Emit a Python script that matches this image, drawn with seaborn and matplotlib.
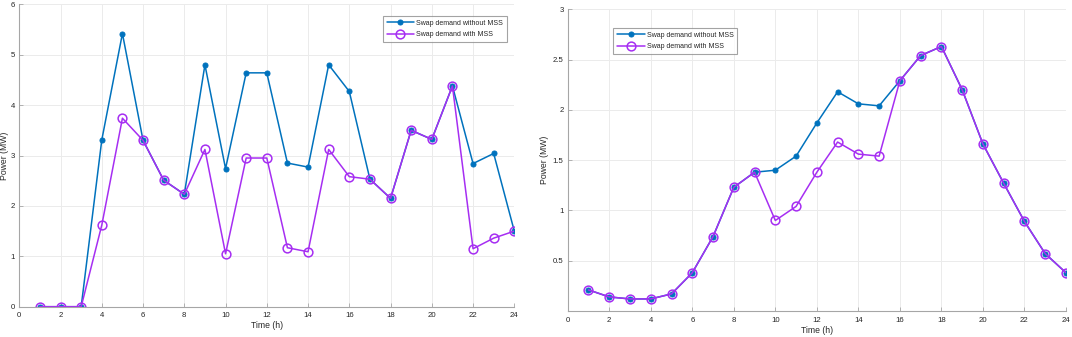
import matplotlib
matplotlib.use('Agg')
import matplotlib.pyplot as plt
import seaborn as sns
import numpy as np

hours = list(range(1, 25))

# Left panel
left_without = [0, 0, 0, 3.31, 5.42, 3.30, 2.51, 2.23, 4.80, 2.74, 4.64, 4.64,
                2.85, 2.77, 4.80, 4.27, 2.53, 2.15, 3.50, 3.32, 4.38, 2.84, 3.04, 1.50]
left_with = [0, 0, 0, 1.62, 3.74, 3.30, 2.51, 2.23, 3.12, 1.05, 2.95, 2.95,
             1.17, 1.09, 3.12, 2.58, 2.53, 2.15, 3.50, 3.32, 4.38, 1.15, 1.36, 1.50]

# Right panel
right_without = [0.21, 0.14, 0.12, 0.12, 0.17, 0.38, 0.74, 1.23, 1.38, 1.40, 1.54, 1.87,
                 2.18, 2.06, 2.04, 2.29, 2.54, 2.63, 2.20, 1.66, 1.27, 0.89, 0.57, 0.38]
right_with = [0.21, 0.14, 0.12, 0.12, 0.17, 0.38, 0.74, 1.23, 1.38, 0.90, 1.04, 1.38,
              1.68, 1.56, 1.54, 2.29, 2.54, 2.63, 2.20, 1.66, 1.27, 0.89, 0.57, 0.38]

label_without = 'Swap demand without MSS'
label_with = 'Swap demand with MSS'
xticks = list(range(0, 25, 2))

BLUE = '#0072BD'
PURPLE = '#A62EF2'
TEXT = '#262626'

sns.set_theme(style='white')
plt.rcParams['font.family'] = ['Liberation Sans', 'DejaVu Sans']


def draw_panel(ax, y_without, y_with, ymax, yticks, legend_anchor, ylabelpad):
    sns.lineplot(x=hours, y=y_without, ax=ax, color=BLUE, linewidth=1.1,
                 marker='o', markersize=3.6, markeredgecolor=BLUE,
                 label=label_without)
    sns.lineplot(x=hours, y=y_with, ax=ax, color=PURPLE, linewidth=1.1,
                 marker='o', markersize=6.3, markerfacecolor='none',
                 markeredgecolor=PURPLE, markeredgewidth=1.1,
                 label=label_with)
    ax.set_xlim(0, 24)
    ax.set_ylim(0, ymax)
    ax.set_xticks(xticks)
    ax.set_yticks(yticks)
    ax.set_yticklabels([f'{t:g}' for t in yticks])
    ax.grid(True, color='#ebebeb', linewidth=0.7)
    for side in ['top', 'right']:
        ax.spines[side].set_visible(False)
    for side in ['left', 'bottom']:
        ax.spines[side].set_color('#a6a6a6')
        ax.spines[side].set_linewidth(0.8)
    ax.tick_params(axis='both', direction='in', length=3, width=0.6,
                   color='#a6a6a6', labelsize=5.6, labelcolor=TEXT,
                   bottom=True, left=True)
    ax.tick_params(axis='x', pad=4)
    ax.tick_params(axis='y', pad=3)
    ax.set_xlabel('Time (h)', fontsize=6.2, color=TEXT, labelpad=1.5)
    ax.set_ylabel('Power (MW)', fontsize=6.2, color=TEXT, labelpad=ylabelpad)
    leg = ax.legend(loc='upper left', bbox_to_anchor=legend_anchor,
                    fontsize=5.0, frameon=True, fancybox=False,
                    borderpad=0.5, borderaxespad=0, handlelength=4.0,
                    labelspacing=0.65, handletextpad=0.3)
    leg.get_frame().set_edgecolor('#8c8c8c')
    leg.get_frame().set_linewidth(0.8)


fig, axs = plt.subplots(1, 2, figsize=(10.72, 3.37), dpi=100)

draw_panel(axs[0], left_without, left_with, 6, [0, 1, 2, 3, 4, 5, 6], (0.735, 0.961), 1.5)
draw_panel(axs[1], right_without, right_with, 3, [0.5, 1, 1.5, 2, 2.5, 3], (0.0915, 0.937), 2.5)

# place axes to match the reference layout (pixel coords)
W, H = 1072, 337
axs[0].set_position([19.3 / W, 1 - 306.7 / H, (514.3 - 19.3) / W, (306.7 - 4.3) / H])
axs[1].set_position([567.7 / W, 1 - 311 / H, (1066 - 567.7) / W, (311 - 9.3) / H])

plt.savefig('out.png', dpi=100)
